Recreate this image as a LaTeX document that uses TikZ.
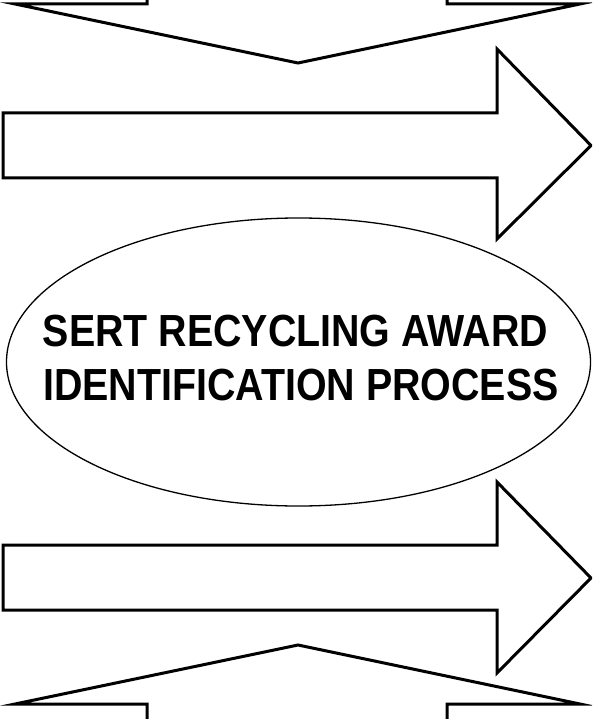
\documentclass[tikz,border=0pt]{standalone}
\usepackage{fontspec}
\newfontfamily\titlefont[FakeStretch=0.875]{Liberation Sans}
\usetikzlibrary{shapes.geometric}
\begin{document}
\begin{tikzpicture}[x=1pt,y=-1pt,
  blockarrow/.style={draw=black, fill=white, line width=3pt, line join=miter},
  titletext/.style={font=\titlefont\bfseries\fontsize{45}{53.3}\selectfont, inner sep=0pt, anchor=base}]
  \useasboundingbox (0,0) rectangle (592,719);
  \clip (0,0) rectangle (592,719);
  % top arrow pointing down
  \draw[blockarrow] (147,-10) -- (147,4) -- (15,4) -- (298,63) -- (580,4) -- (447,4) -- (447,-10);
  % upper right arrow
  \draw[blockarrow] (3,113) -- (497,113) -- (497,49) -- (591,145.5) -- (497,239) -- (497,178) -- (3,178) -- cycle;
  % central ellipse
  \node[ellipse, draw=black, line width=1.3pt, fill=white, minimum width=584pt, minimum height=288pt, inner sep=0pt] (award) at (298.5,362) {};
  \node[titletext] (line1) at (295.5,346.7) {SERT RECYCLING AWARD};
  \node[titletext] (line2) at (301,400) {IDENTIFICATION PROCESS};
  % lower right arrow
  \draw[blockarrow] (3,545) -- (497,545) -- (497,482) -- (591,578) -- (497,673) -- (497,610) -- (3,610) -- cycle;
  % bottom arrow pointing up
  \draw[blockarrow] (147,730) -- (147,704) -- (15,704) -- (298,645) -- (580,704) -- (447,704) -- (447,730);
\end{tikzpicture}
\end{document}
